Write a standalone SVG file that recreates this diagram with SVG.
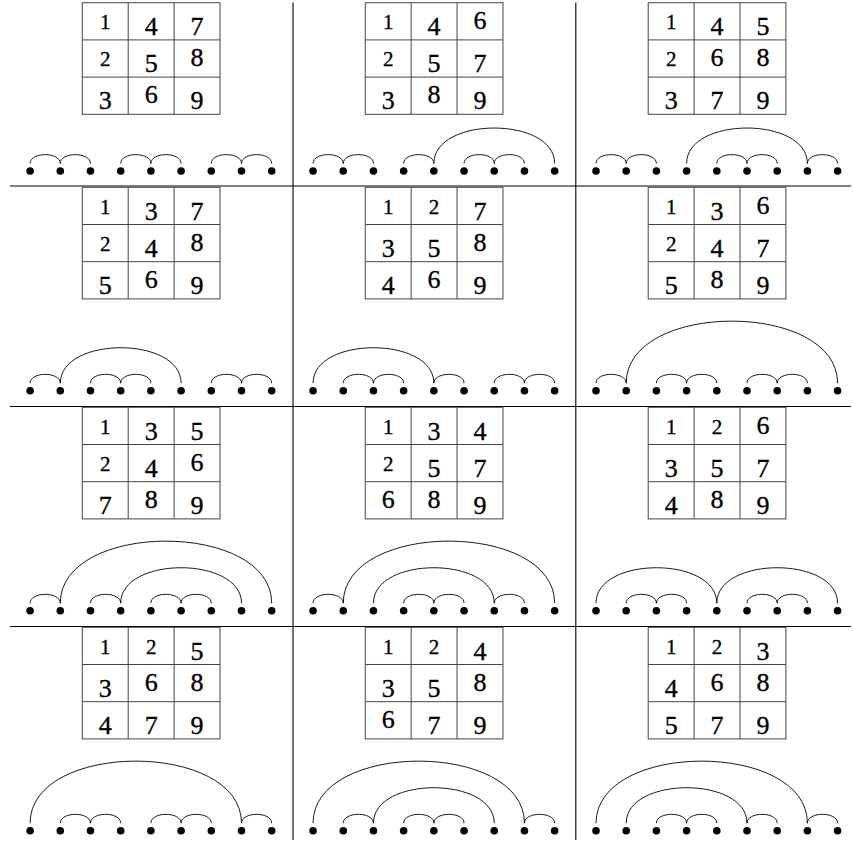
<svg xmlns="http://www.w3.org/2000/svg" xmlns:xlink="http://www.w3.org/1999/xlink" width="854" height="842" viewBox="0 0 854 842" font-family="'Liberation Serif', serif">
<style>
.sep{stroke:#000;stroke-width:1.1;fill:none}
.grid{fill:none;stroke:#444;stroke-width:1}
.dots circle{fill:#000}
.arc{fill:none;stroke:#000;stroke-width:0.9}
.table text{font-family:'Liberation Serif',serif;text-anchor:middle;fill:#000;stroke:#000;stroke-width:0.35}
.x{font-size:21px}
.a,.d{font-size:26px}
</style>
<defs>
<g id="grid3" class="grid">
<rect x="82.3" y="0" width="137.7" height="111.6"/>
<line x1="128.2" y1="0" x2="128.2" y2="111.6"/>
<line x1="174.1" y1="0" x2="174.1" y2="111.6"/>
<line x1="82.3" y1="37.2" x2="220" y2="37.2"/>
<line x1="82.3" y1="74.4" x2="220" y2="74.4"/>
</g>
</defs>
<g id="separators">
<line class="sep" x1="293" y1="2.5" x2="293" y2="840"/>
<line class="sep" x1="575.8" y1="2.5" x2="575.8" y2="840"/>
<line class="sep" x1="10" y1="186" x2="851" y2="186"/>
<line class="sep" x1="10" y1="406.5" x2="851" y2="406.5"/>
<line class="sep" x1="10" y1="626.5" x2="851" y2="626.5"/>
</g>

<!-- Row 1 -->
<g id="panel-1-1" transform="translate(0,0)">
<g class="table" transform="translate(0,2.7)"><use xlink:href="#grid3"/>
<text class="x" x="105.25" y="26.3">1</text><text class="d" x="151.15" y="32.8">4</text><text class="d" x="197.05" y="32.8">7</text>
<text class="x" x="105.25" y="63.3">2</text><text class="d" x="151.15" y="69.8">5</text><text class="a" x="197.05" y="63.3">8</text>
<text class="d" x="105.25" y="106.8">3</text><text class="a" x="151.15" y="100.3">6</text><text class="d" x="197.05" y="106.8">9</text>
</g>
<g class="dots" transform="translate(0,171)"><circle cx="30.1" r="3.8"/><circle cx="60.3" r="3.8"/><circle cx="90.5" r="3.8"/><circle cx="120.7" r="3.8"/><circle cx="150.9" r="3.8"/><circle cx="181.1" r="3.8"/><circle cx="211.3" r="3.8"/><circle cx="241.5" r="3.8"/><circle cx="271.7" r="3.8"/></g>
</g>
<g id="panel-1-2" transform="translate(282.95,0)">
<g class="table" transform="translate(0,2.7)"><use xlink:href="#grid3"/>
<text class="x" x="105.25" y="26.3">1</text><text class="d" x="151.15" y="32.8">4</text><text class="a" x="197.05" y="26.3">6</text>
<text class="x" x="105.25" y="63.3">2</text><text class="d" x="151.15" y="69.8">5</text><text class="d" x="197.05" y="69.8">7</text>
<text class="d" x="105.25" y="106.8">3</text><text class="a" x="151.15" y="100.3">8</text><text class="d" x="197.05" y="106.8">9</text>
</g>
<g class="dots" transform="translate(0,171)"><circle cx="30.1" r="3.8"/><circle cx="60.3" r="3.8"/><circle cx="90.5" r="3.8"/><circle cx="120.7" r="3.8"/><circle cx="150.9" r="3.8"/><circle cx="181.1" r="3.8"/><circle cx="211.3" r="3.8"/><circle cx="241.5" r="3.8"/><circle cx="271.7" r="3.8"/></g>
</g>
<g id="panel-1-3" transform="translate(565.9,0)">
<g class="table" transform="translate(0,2.7)"><use xlink:href="#grid3"/>
<text class="x" x="105.25" y="26.3">1</text><text class="d" x="151.15" y="32.8">4</text><text class="d" x="197.05" y="32.8">5</text>
<text class="x" x="105.25" y="63.3">2</text><text class="a" x="151.15" y="63.3">6</text><text class="a" x="197.05" y="63.3">8</text>
<text class="d" x="105.25" y="106.8">3</text><text class="d" x="151.15" y="106.8">7</text><text class="d" x="197.05" y="106.8">9</text>
</g>
<g class="dots" transform="translate(0,171)"><circle cx="30.1" r="3.8"/><circle cx="60.3" r="3.8"/><circle cx="90.5" r="3.8"/><circle cx="120.7" r="3.8"/><circle cx="150.9" r="3.8"/><circle cx="181.1" r="3.8"/><circle cx="211.3" r="3.8"/><circle cx="241.5" r="3.8"/><circle cx="271.7" r="3.8"/></g>
</g>

<!-- Row 2 -->
<g id="panel-2-1" transform="translate(0,0)">
<g class="table" transform="translate(0,187.3)"><use xlink:href="#grid3"/>
<text class="x" x="105.25" y="26.3">1</text><text class="d" x="151.15" y="32.8">3</text><text class="d" x="197.05" y="32.8">7</text>
<text class="x" x="105.25" y="63.3">2</text><text class="d" x="151.15" y="69.8">4</text><text class="a" x="197.05" y="63.3">8</text>
<text class="d" x="105.25" y="106.8">5</text><text class="a" x="151.15" y="100.3">6</text><text class="d" x="197.05" y="106.8">9</text>
</g>
<g class="dots" transform="translate(0,390.7)"><circle cx="30.1" r="3.8"/><circle cx="60.3" r="3.8"/><circle cx="90.5" r="3.8"/><circle cx="120.7" r="3.8"/><circle cx="150.9" r="3.8"/><circle cx="181.1" r="3.8"/><circle cx="211.3" r="3.8"/><circle cx="241.5" r="3.8"/><circle cx="271.7" r="3.8"/></g>
</g>
<g id="panel-2-2" transform="translate(282.95,0)">
<g class="table" transform="translate(0,187.3)"><use xlink:href="#grid3"/>
<text class="x" x="105.25" y="26.3">1</text><text class="x" x="151.15" y="26.3">2</text><text class="d" x="197.05" y="32.8">7</text>
<text class="d" x="105.25" y="69.8">3</text><text class="d" x="151.15" y="69.8">5</text><text class="a" x="197.05" y="63.3">8</text>
<text class="d" x="105.25" y="106.8">4</text><text class="a" x="151.15" y="100.3">6</text><text class="d" x="197.05" y="106.8">9</text>
</g>
<g class="dots" transform="translate(0,390.7)"><circle cx="30.1" r="3.8"/><circle cx="60.3" r="3.8"/><circle cx="90.5" r="3.8"/><circle cx="120.7" r="3.8"/><circle cx="150.9" r="3.8"/><circle cx="181.1" r="3.8"/><circle cx="211.3" r="3.8"/><circle cx="241.5" r="3.8"/><circle cx="271.7" r="3.8"/></g>
</g>
<g id="panel-2-3" transform="translate(565.9,0)">
<g class="table" transform="translate(0,187.3)"><use xlink:href="#grid3"/>
<text class="x" x="105.25" y="26.3">1</text><text class="d" x="151.15" y="32.8">3</text><text class="a" x="197.05" y="26.3">6</text>
<text class="x" x="105.25" y="63.3">2</text><text class="d" x="151.15" y="69.8">4</text><text class="d" x="197.05" y="69.8">7</text>
<text class="d" x="105.25" y="106.8">5</text><text class="a" x="151.15" y="100.3">8</text><text class="d" x="197.05" y="106.8">9</text>
</g>
<g class="dots" transform="translate(0,390.7)"><circle cx="30.1" r="3.8"/><circle cx="60.3" r="3.8"/><circle cx="90.5" r="3.8"/><circle cx="120.7" r="3.8"/><circle cx="150.9" r="3.8"/><circle cx="181.1" r="3.8"/><circle cx="211.3" r="3.8"/><circle cx="241.5" r="3.8"/><circle cx="271.7" r="3.8"/></g>
</g>

<!-- Row 3 -->
<g id="panel-3-1" transform="translate(0,0)">
<g class="table" transform="translate(0,407.3)"><use xlink:href="#grid3"/>
<text class="x" x="105.25" y="26.3">1</text><text class="d" x="151.15" y="32.8">3</text><text class="d" x="197.05" y="32.8">5</text>
<text class="x" x="105.25" y="63.3">2</text><text class="d" x="151.15" y="69.8">4</text><text class="a" x="197.05" y="63.3">6</text>
<text class="d" x="105.25" y="106.8">7</text><text class="a" x="151.15" y="100.3">8</text><text class="d" x="197.05" y="106.8">9</text>
</g>
<g class="dots" transform="translate(0,610.7)"><circle cx="30.1" r="3.8"/><circle cx="60.3" r="3.8"/><circle cx="90.5" r="3.8"/><circle cx="120.7" r="3.8"/><circle cx="150.9" r="3.8"/><circle cx="181.1" r="3.8"/><circle cx="211.3" r="3.8"/><circle cx="241.5" r="3.8"/><circle cx="271.7" r="3.8"/></g>
</g>
<g id="panel-3-2" transform="translate(282.95,0)">
<g class="table" transform="translate(0,407.3)"><use xlink:href="#grid3"/>
<text class="x" x="105.25" y="26.3">1</text><text class="d" x="151.15" y="32.8">3</text><text class="d" x="197.05" y="32.8">4</text>
<text class="x" x="105.25" y="63.3">2</text><text class="d" x="151.15" y="69.8">5</text><text class="d" x="197.05" y="69.8">7</text>
<text class="a" x="105.25" y="100.3">6</text><text class="a" x="151.15" y="100.3">8</text><text class="d" x="197.05" y="106.8">9</text>
</g>
<g class="dots" transform="translate(0,610.7)"><circle cx="30.1" r="3.8"/><circle cx="60.3" r="3.8"/><circle cx="90.5" r="3.8"/><circle cx="120.7" r="3.8"/><circle cx="150.9" r="3.8"/><circle cx="181.1" r="3.8"/><circle cx="211.3" r="3.8"/><circle cx="241.5" r="3.8"/><circle cx="271.7" r="3.8"/></g>
</g>
<g id="panel-3-3" transform="translate(565.9,0)">
<g class="table" transform="translate(0,407.3)"><use xlink:href="#grid3"/>
<text class="x" x="105.25" y="26.3">1</text><text class="x" x="151.15" y="26.3">2</text><text class="a" x="197.05" y="26.3">6</text>
<text class="d" x="105.25" y="69.8">3</text><text class="d" x="151.15" y="69.8">5</text><text class="d" x="197.05" y="69.8">7</text>
<text class="d" x="105.25" y="106.8">4</text><text class="a" x="151.15" y="100.3">8</text><text class="d" x="197.05" y="106.8">9</text>
</g>
<g class="dots" transform="translate(0,610.7)"><circle cx="30.1" r="3.8"/><circle cx="60.3" r="3.8"/><circle cx="90.5" r="3.8"/><circle cx="120.7" r="3.8"/><circle cx="150.9" r="3.8"/><circle cx="181.1" r="3.8"/><circle cx="211.3" r="3.8"/><circle cx="241.5" r="3.8"/><circle cx="271.7" r="3.8"/></g>
</g>

<!-- Row 4 -->
<g id="panel-4-1" transform="translate(0,0)">
<g class="table" transform="translate(0,627.3)"><use xlink:href="#grid3"/>
<text class="x" x="105.25" y="26.3">1</text><text class="x" x="151.15" y="26.3">2</text><text class="d" x="197.05" y="32.8">5</text>
<text class="d" x="105.25" y="69.8">3</text><text class="a" x="151.15" y="63.3">6</text><text class="a" x="197.05" y="63.3">8</text>
<text class="d" x="105.25" y="106.8">4</text><text class="d" x="151.15" y="106.8">7</text><text class="d" x="197.05" y="106.8">9</text>
</g>
<g class="dots" transform="translate(0,830.7)"><circle cx="30.1" r="3.8"/><circle cx="60.3" r="3.8"/><circle cx="90.5" r="3.8"/><circle cx="120.7" r="3.8"/><circle cx="150.9" r="3.8"/><circle cx="181.1" r="3.8"/><circle cx="211.3" r="3.8"/><circle cx="241.5" r="3.8"/><circle cx="271.7" r="3.8"/></g>
</g>
<g id="panel-4-2" transform="translate(282.95,0)">
<g class="table" transform="translate(0,627.3)"><use xlink:href="#grid3"/>
<text class="x" x="105.25" y="26.3">1</text><text class="x" x="151.15" y="26.3">2</text><text class="d" x="197.05" y="32.8">4</text>
<text class="d" x="105.25" y="69.8">3</text><text class="d" x="151.15" y="69.8">5</text><text class="a" x="197.05" y="63.3">8</text>
<text class="a" x="105.25" y="100.3">6</text><text class="d" x="151.15" y="106.8">7</text><text class="d" x="197.05" y="106.8">9</text>
</g>
<g class="dots" transform="translate(0,830.7)"><circle cx="30.1" r="3.8"/><circle cx="60.3" r="3.8"/><circle cx="90.5" r="3.8"/><circle cx="120.7" r="3.8"/><circle cx="150.9" r="3.8"/><circle cx="181.1" r="3.8"/><circle cx="211.3" r="3.8"/><circle cx="241.5" r="3.8"/><circle cx="271.7" r="3.8"/></g>
</g>
<g id="panel-4-3" transform="translate(565.9,0)">
<g class="table" transform="translate(0,627.3)"><use xlink:href="#grid3"/>
<text class="x" x="105.25" y="26.3">1</text><text class="x" x="151.15" y="26.3">2</text><text class="d" x="197.05" y="32.8">3</text>
<text class="d" x="105.25" y="69.8">4</text><text class="a" x="151.15" y="63.3">6</text><text class="a" x="197.05" y="63.3">8</text>
<text class="d" x="105.25" y="106.8">5</text><text class="d" x="151.15" y="106.8">7</text><text class="d" x="197.05" y="106.8">9</text>
</g>
<g class="dots" transform="translate(0,830.7)"><circle cx="30.1" r="3.8"/><circle cx="60.3" r="3.8"/><circle cx="90.5" r="3.8"/><circle cx="120.7" r="3.8"/><circle cx="150.9" r="3.8"/><circle cx="181.1" r="3.8"/><circle cx="211.3" r="3.8"/><circle cx="241.5" r="3.8"/><circle cx="271.7" r="3.8"/></g>
</g>

<g id="connectors" class="arc">
<g id="arcs-1-1" transform="translate(0,171)">
<path d="M30.1 -7.5c0 -11.82 30.2 -11.82 30.2 0"/><path d="M60.3 -7.5c0 -11.82 30.2 -11.82 30.2 0"/>
<path d="M120.7 -7.5c0 -11.82 30.2 -11.82 30.2 0"/><path d="M150.9 -7.5c0 -11.82 30.2 -11.82 30.2 0"/>
<path d="M211.3 -7.5c0 -11.82 30.2 -11.82 30.2 0"/><path d="M241.5 -7.5c0 -11.82 30.2 -11.82 30.2 0"/>
</g>
<g id="arcs-1-2" transform="translate(282.95,171)">
<path d="M30.1 -7.5c0 -11.82 30.2 -11.82 30.2 0"/><path d="M60.3 -7.5c0 -11.82 30.2 -11.82 30.2 0"/>
<path d="M120.7 -7.5c0 -11.82 30.2 -11.82 30.2 0"/><path d="M150.9 -7.5c0 -47.29 120.8 -47.29 120.8 0"/>
<path d="M181.1 -7.5c0 -11.82 30.2 -11.82 30.2 0"/><path d="M211.3 -7.5c0 -11.82 30.2 -11.82 30.2 0"/>
</g>
<g id="arcs-1-3" transform="translate(565.9,171)">
<path d="M30.1 -7.5c0 -11.82 30.2 -11.82 30.2 0"/><path d="M60.3 -7.5c0 -11.82 30.2 -11.82 30.2 0"/>
<path d="M120.7 -7.5c0 -47.29 120.8 -47.29 120.8 0"/><path d="M150.9 -7.5c0 -11.82 30.2 -11.82 30.2 0"/>
<path d="M181.1 -7.5c0 -11.82 30.2 -11.82 30.2 0"/><path d="M241.5 -7.5c0 -11.82 30.2 -11.82 30.2 0"/>
</g>
<g id="arcs-2-1" transform="translate(0,390.7)">
<path d="M30.1 -7.5c0 -11.82 30.2 -11.82 30.2 0"/><path d="M60.3 -7.5c0 -47.29 120.8 -47.29 120.8 0"/>
<path d="M90.5 -7.5c0 -11.82 30.2 -11.82 30.2 0"/><path d="M120.7 -7.5c0 -11.82 30.2 -11.82 30.2 0"/>
<path d="M211.3 -7.5c0 -11.82 30.2 -11.82 30.2 0"/><path d="M241.5 -7.5c0 -11.82 30.2 -11.82 30.2 0"/>
</g>
<g id="arcs-2-2" transform="translate(282.95,390.7)">
<path d="M30.1 -7.5c0 -47.29 120.8 -47.29 120.8 0"/><path d="M60.3 -7.5c0 -11.82 30.2 -11.82 30.2 0"/>
<path d="M90.5 -7.5c0 -11.82 30.2 -11.82 30.2 0"/><path d="M150.9 -7.5c0 -11.82 30.2 -11.82 30.2 0"/>
<path d="M211.3 -7.5c0 -11.82 30.2 -11.82 30.2 0"/><path d="M241.5 -7.5c0 -11.82 30.2 -11.82 30.2 0"/>
</g>
<g id="arcs-2-3" transform="translate(565.9,390.7)">
<path d="M30.1 -7.5c0 -11.82 30.2 -11.82 30.2 0"/><path d="M60.3 -7.5c0 -82.76 211.4 -82.76 211.4 0"/>
<path d="M90.5 -7.5c0 -11.82 30.2 -11.82 30.2 0"/><path d="M120.7 -7.5c0 -11.82 30.2 -11.82 30.2 0"/>
<path d="M181.1 -7.5c0 -11.82 30.2 -11.82 30.2 0"/><path d="M211.3 -7.5c0 -11.82 30.2 -11.82 30.2 0"/>
</g>
<g id="arcs-3-1" transform="translate(0,610.7)">
<path d="M30.1 -7.5c0 -11.82 30.2 -11.82 30.2 0"/><path d="M60.3 -7.5c0 -82.76 211.4 -82.76 211.4 0"/>
<path d="M90.5 -7.5c0 -11.82 30.2 -11.82 30.2 0"/><path d="M120.7 -7.5c0 -47.29 120.8 -47.29 120.8 0"/>
<path d="M150.9 -7.5c0 -11.82 30.2 -11.82 30.2 0"/><path d="M181.1 -7.5c0 -11.82 30.2 -11.82 30.2 0"/>
</g>
<g id="arcs-3-2" transform="translate(282.95,610.7)">
<path d="M30.1 -7.5c0 -11.82 30.2 -11.82 30.2 0"/><path d="M60.3 -7.5c0 -82.76 211.4 -82.76 211.4 0"/>
<path d="M90.5 -7.5c0 -47.29 120.8 -47.29 120.8 0"/><path d="M120.7 -7.5c0 -11.82 30.2 -11.82 30.2 0"/>
<path d="M150.9 -7.5c0 -11.82 30.2 -11.82 30.2 0"/><path d="M211.3 -7.5c0 -11.82 30.2 -11.82 30.2 0"/>
</g>
<g id="arcs-3-3" transform="translate(565.9,610.7)">
<path d="M30.1 -7.5c0 -47.29 120.8 -47.29 120.8 0"/><path d="M150.9 -7.5c0 -47.29 120.8 -47.29 120.8 0"/>
<path d="M60.3 -7.5c0 -11.82 30.2 -11.82 30.2 0"/><path d="M90.5 -7.5c0 -11.82 30.2 -11.82 30.2 0"/>
<path d="M181.1 -7.5c0 -11.82 30.2 -11.82 30.2 0"/><path d="M211.3 -7.5c0 -11.82 30.2 -11.82 30.2 0"/>
</g>
<g id="arcs-4-1" transform="translate(0,830.7)">
<path d="M30.1 -7.5c0 -82.76 211.4 -82.76 211.4 0"/><path d="M60.3 -7.5c0 -11.82 30.2 -11.82 30.2 0"/>
<path d="M90.5 -7.5c0 -11.82 30.2 -11.82 30.2 0"/><path d="M150.9 -7.5c0 -11.82 30.2 -11.82 30.2 0"/>
<path d="M181.1 -7.5c0 -11.82 30.2 -11.82 30.2 0"/><path d="M241.5 -7.5c0 -11.82 30.2 -11.82 30.2 0"/>
</g>
<g id="arcs-4-2" transform="translate(282.95,830.7)">
<path d="M30.1 -7.5c0 -82.76 211.4 -82.76 211.4 0"/><path d="M60.3 -7.5c0 -11.82 30.2 -11.82 30.2 0"/>
<path d="M90.5 -7.5c0 -47.29 120.8 -47.29 120.8 0"/><path d="M120.7 -7.5c0 -11.82 30.2 -11.82 30.2 0"/>
<path d="M150.9 -7.5c0 -11.82 30.2 -11.82 30.2 0"/><path d="M241.5 -7.5c0 -11.82 30.2 -11.82 30.2 0"/>
</g>
<g id="arcs-4-3" transform="translate(565.9,830.7)">
<path d="M30.1 -7.5c0 -82.76 211.4 -82.76 211.4 0"/><path d="M60.3 -7.5c0 -47.29 120.8 -47.29 120.8 0"/>
<path d="M90.5 -7.5c0 -11.82 30.2 -11.82 30.2 0"/><path d="M120.7 -7.5c0 -11.82 30.2 -11.82 30.2 0"/>
<path d="M181.1 -7.5c0 -11.82 30.2 -11.82 30.2 0"/><path d="M241.5 -7.5c0 -11.82 30.2 -11.82 30.2 0"/>
</g>
</g>
</svg>
